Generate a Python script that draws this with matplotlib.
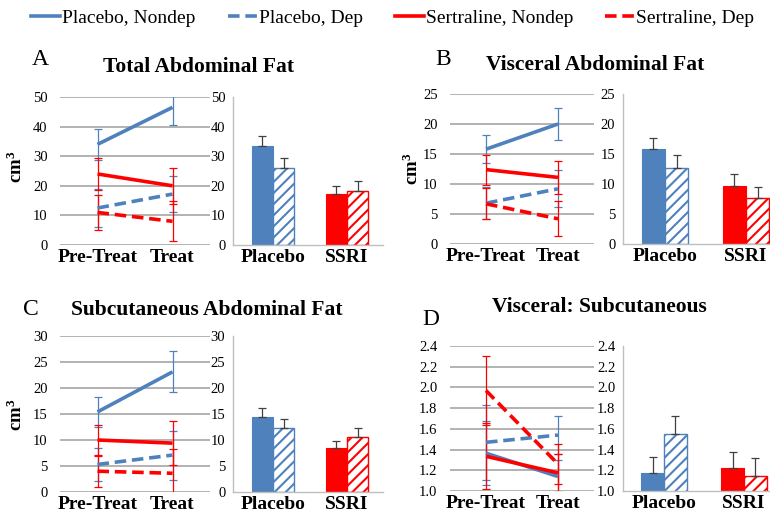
import matplotlib
matplotlib.use('Agg')
import matplotlib.pyplot as plt
from matplotlib.lines import Line2D
from matplotlib.ticker import FormatStrFormatter
import numpy as np

plt.rcParams['font.family'] = 'serif'
plt.rcParams['font.serif'] = ['Liberation Serif', 'DejaVu Serif']
plt.rcParams['mathtext.fontset'] = 'custom'
plt.rcParams['mathtext.rm'] = 'Liberation Serif'
plt.rcParams['mathtext.bf'] = 'Liberation Serif:bold'
plt.rcParams['hatch.linewidth'] = 1.5

W, H = 770, 517
BLUE = '#4f81bd'
RED = '#ff0000'
GRID = '#a6a6a6'
ERR_GRAY = '#404040'

time_labels = ['Pre-Treat', 'Treat']
group_labels = ['Placebo', 'SSRI']
series_names = ['Placebo, Nondep', 'Placebo, Dep', 'Sertraline, Nondep', 'Sertraline, Dep']

# --- A: total abdominal fat (cm3) ---
total_pn = [34.0, 46.5]
total_pn_err = [5.3, 6.0]
total_pd = [12.5, 17.2]
total_pd_err = [6.3, 6.0]
total_sn = [24.0, 20.0]
total_sn_err = [5.5, 6.1]
total_sd = [11.0, 8.0]
total_sd_err = [6.0, 6.8]
total_bar_nondep = [33.6, 17.2]
total_bar_nondep_err = [3.1, 2.9]
total_bar_dep = [26.0, 18.4]
total_bar_dep_err = [3.3, 3.1]

# --- B: visceral abdominal fat ---
visc_pn = [15.8, 20.0]
visc_pn_err = [2.3, 2.65]
visc_pd = [6.8, 9.2]
visc_pd_err = [2.7, 3.1]
visc_sn = [12.4, 11.1]
visc_sn_err = [2.5, 2.7]
visc_sd = [6.7, 4.2]
visc_sd_err = [2.6, 2.9]
visc_bar_nondep = [15.8, 9.7]
visc_bar_nondep_err = [1.9, 1.9]
visc_bar_dep = [12.7, 7.6]
visc_bar_dep_err = [2.1, 1.9]

# --- C: subcutaneous abdominal fat ---
subq_pn = [15.4, 23.1]
subq_pn_err = [2.9, 3.95]
subq_pd = [5.3, 7.1]
subq_pd_err = [3.2, 4.7]
subq_sn = [10.0, 9.4]
subq_sn_err = [2.8, 4.2]
subq_sd = [4.0, 3.6]
subq_sd_err = [3.0, 4.7]
subq_bar_nondep = [14.5, 8.4]
subq_bar_nondep_err = [1.6, 1.5]
subq_bar_dep = [12.4, 10.6]
subq_bar_dep_err = [1.6, 1.7]

# --- D: visceral : subcutaneous ratio ---
ratio_pn = [1.365, 1.14]
ratio_pn_err = [0.31, 0.16]
ratio_pd = [1.47, 1.54]
ratio_pd_err = [0.36, 0.185]
ratio_sn = [1.335, 1.175]
ratio_sn_err = [0.32, 0.18]
ratio_sd = [1.97, 1.26]
ratio_sd_err = [0.335, 0.19]
ratio_bar_nondep = [1.177, 1.225]
ratio_bar_nondep_err = [0.15, 0.155]
ratio_bar_dep = [1.553, 1.145]
ratio_bar_dep_err = [0.17, 0.177]

fig = plt.figure(figsize=(W / 100, H / 100), dpi=100)


def px_rect(x0, y0, x1, y1):
    return [x0 / W, 1 - y1 / H, (x1 - x0) / W, (y1 - y0) / H]


def fx(x):
    return x / W


def fy(y):
    return 1 - y / H


def draw_panel(line_box, bar_box, bar_centers, ylim, yticks, fmt, lines, bars):
    x = np.arange(len(time_labels))
    ax = fig.add_axes(px_rect(*line_box))
    styles = [(BLUE, '-'), (BLUE, (0, (3.2, 1.6))), (RED, '-'), (RED, (0, (3.2, 1.6)))]
    for (vals, errs), (col, ls) in zip(lines, styles):
        ax.errorbar(x, vals, yerr=errs, fmt='none', ecolor=col, elinewidth=0.9,
                    capsize=2.6, capthick=0.9, zorder=2)
    for (vals, errs), (col, ls) in zip(lines, styles):
        ax.plot(x, vals, color=col, lw=2.6, ls=ls, zorder=3,
                solid_capstyle='butt', dash_capstyle='butt')
    ax.set_xlim(-0.5, 1.5)
    ax.set_ylim(*ylim)
    ax.set_yticks(yticks)
    ax.yaxis.set_major_formatter(FormatStrFormatter(fmt))
    ax.set_xticks(x, time_labels, fontsize=14, fontweight='bold')
    ax.tick_params(axis='x', length=0, pad=3)
    ax.tick_params(axis='y', length=0, pad=9, labelsize=10.5)
    ax.yaxis.grid(True, color=GRID, lw=1.2)
    ax.set_axisbelow(True)
    for s in ax.spines.values():
        s.set_visible(False)

    # bar chart beside it
    bx = fig.add_axes(px_rect(*bar_box))
    c0, c1 = bar_centers
    step = c1 - c0
    bx.set_xlim((bar_box[0] - c0) / step, (bar_box[2] - c0) / step)
    g = np.arange(len(group_labels))
    w = 0.285
    nd, nd_err, dp, dp_err = bars
    bx.bar(g - w / 2, nd, w, color=[BLUE, RED], edgecolor=[BLUE, RED], lw=0.8,
           yerr=[np.zeros(len(g)), nd_err],
           error_kw=dict(ecolor=ERR_GRAY, elinewidth=0.9, capsize=2.6, capthick=0.9))
    bx.bar(g + w / 2, dp, w, color='white', edgecolor=[BLUE, RED], lw=1, hatch='///',
           yerr=[np.zeros(len(g)), dp_err],
           error_kw=dict(ecolor=ERR_GRAY, elinewidth=0.9, capsize=2.6, capthick=0.9))
    bx.set_ylim(*ylim)
    bx.set_yticks(yticks)
    bx.yaxis.set_major_formatter(FormatStrFormatter(fmt))
    bx.set_xticks(g, group_labels, fontsize=14, fontweight='bold')
    bx.tick_params(axis='x', length=0, pad=3)
    bx.tick_params(axis='y', length=0, pad=5.5, labelsize=10.5)
    bx.spines['top'].set_visible(False)
    bx.spines['right'].set_visible(False)
    for side in ['left', 'bottom']:
        bx.spines[side].set_color('#bfbfbf')
        bx.spines[side].set_linewidth(1)
    return ax, bx


# A
draw_panel((60, 97, 210, 245), (233, 97, 383, 245), (273, 347), (0, 50), np.arange(0, 51, 10), '%d',
           [(total_pn, total_pn_err), (total_pd, total_pd_err), (total_sn, total_sn_err), (total_sd, total_sd_err)],
           (total_bar_nondep, total_bar_nondep_err, total_bar_dep, total_bar_dep_err))
# B
draw_panel((450, 94, 594, 244), (623, 94, 788, 244), (665, 746), (0, 25), np.arange(0, 26, 5), '%d',
           [(visc_pn, visc_pn_err), (visc_pd, visc_pd_err), (visc_sn, visc_sn_err), (visc_sd, visc_sd_err)],
           (visc_bar_nondep, visc_bar_nondep_err, visc_bar_dep, visc_bar_dep_err))
# C
draw_panel((60, 336, 210, 492), (233, 336, 383, 492), (273, 347), (0, 30), np.arange(0, 31, 5), '%d',
           [(subq_pn, subq_pn_err), (subq_pd, subq_pd_err), (subq_sn, subq_sn_err), (subq_sd, subq_sd_err)],
           (subq_bar_nondep, subq_bar_nondep_err, subq_bar_dep, subq_bar_dep_err))
# D
draw_panel((450, 346, 594, 491), (623, 346, 788, 491), (664, 744), (1.0, 2.4), np.arange(1.0, 2.41, 0.2), '%.1f',
           [(ratio_pn, ratio_pn_err), (ratio_pd, ratio_pd_err), (ratio_sn, ratio_sn_err), (ratio_sd, ratio_sd_err)],
           (ratio_bar_nondep, ratio_bar_nondep_err, ratio_bar_dep, ratio_bar_dep_err))

# titles and panel letters
titles = [('Total Abdominal Fat', 199, 72), ('Visceral Abdominal Fat', 595, 70),
          ('Subcutaneous Abdominal Fat', 207, 315), ('Visceral: Subcutaneous', 599, 312)]
for txt, cx, by in titles:
    fig.text(fx(cx), fy(by), txt, ha='center', va='baseline', fontsize=15.5, fontweight='bold')

letters = [('A', 32, 65), ('B', 435, 65), ('C', 23, 315), ('D', 422, 325)]
for txt, lx, by in letters:
    fig.text(fx(lx), fy(by), txt, ha='left', va='baseline', fontsize=17)

for cx, cy in [(16, 167), (412, 169), (16, 415)]:
    fig.text(fx(cx), fy(cy), r'$\mathbf{cm^3}$', rotation=90, ha='center', va='center', fontsize=13.5)

# legend across the top
handles = [Line2D([0], [0], color=BLUE, lw=2.6),
           Line2D([0], [0], color=BLUE, lw=2.6, ls=(0, (3.2, 1.6))),
           Line2D([0], [0], color=RED, lw=2.6),
           Line2D([0], [0], color=RED, lw=2.6, ls=(0, (3.2, 1.6)))]
fig.legend(handles, series_names, loc='center left', bbox_to_anchor=(fx(31), fy(18)),
           ncol=4, frameon=False, fontsize=14, handlelength=1.5, handletextpad=0.1,
           columnspacing=1.65, borderpad=0, borderaxespad=0)

fig.savefig('out.png', dpi=100)
